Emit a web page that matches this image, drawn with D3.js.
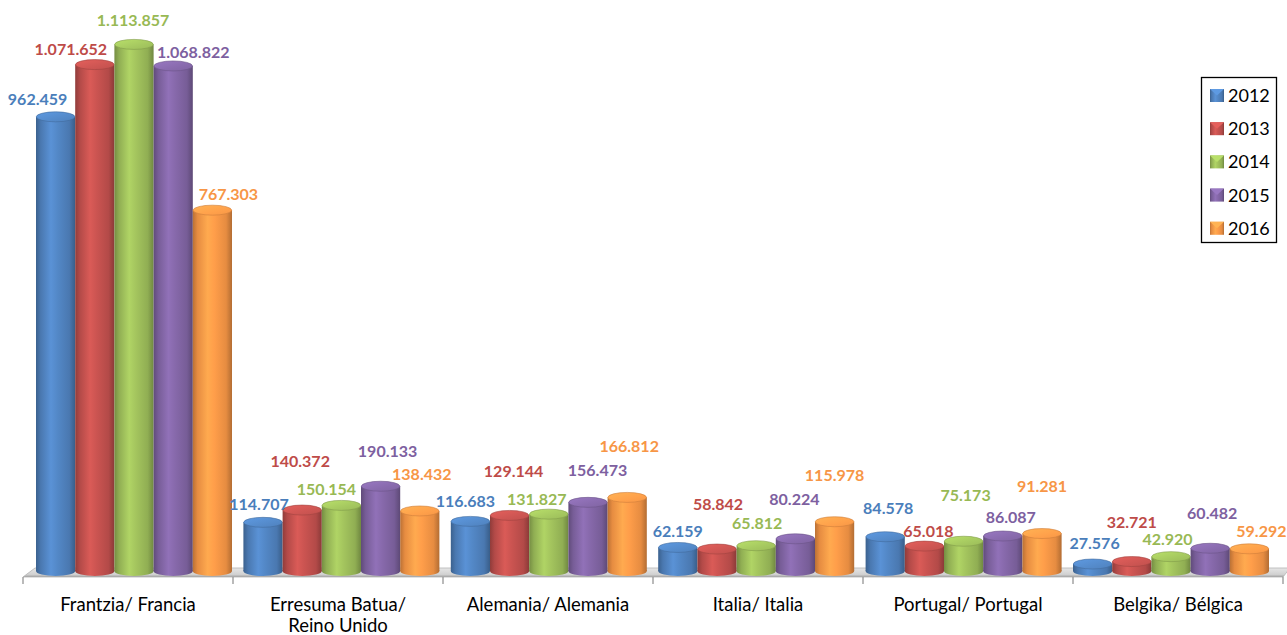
<!DOCTYPE html>
<html>
<head>
<meta charset="utf-8">
<script src="https://cdn.jsdelivr.net/npm/d3@7"></script>
<style>
  body { margin: 0; background: #fff; }
  svg { display: block; }
</style>
</head>
<body>
<div id="my-svg-chart"></div>
<script>
// data
const countries = ["Frantzia/ Francia", "Erresuma Batua/|Reino Unido", "Alemania/ Alemania", "Italia/ Italia", "Portugal/ Portugal", "Belgika/ Bélgica"];
const years = ["2012", "2013", "2014", "2015", "2016"];
const v2012 = [962459, 114707, 116683, 62159, 84578, 27576];
const v2013 = [1071652, 140372, 129144, 58842, 65018, 32721];
const v2014 = [1113857, 150154, 131827, 65812, 75173, 42920];
const v2015 = [1068822, 190133, 156473, 80224, 86087, 60482];
const v2016 = [767303, 138432, 166812, 115978, 91281, 59292];
const series = [v2012, v2013, v2014, v2015, v2016];

// excel pushed the value labels around to avoid overlaps, per year then per country
const labelDx = [
  [-18, -4, -5, 0, 3, 2],
  [-24, -2, 4, 1, 4, 0],
  [-1, -15, -12, 1, 2, -3.5],
  [20, 7, 9.5, -1, 8, 2],
  [16, 2, 2, 0, 0, 12]
];
const labelDy = [
  [-11.5, -12, -14, -10.5, -23, -15],
  [-10, -43, -38, -39, -9, -34],
  [-18, -10, -9, -17, -40, -12],
  [-7.5, -29, -26, -34, -13, -29],
  [-10, -31, -45, -41, -42, -12]
];

const colors = ["#4f81bd", "#c0504d", "#9bbb59", "#8064a2", "#f79646"];
const labelColors = ["#4a7ebb", "#be4b48", "#98b954", "#7d60a0", "#f79646"];

const width = 1287, height = 635;
const yBase = 571, ry = 5;

const fmt = d3.formatLocale({decimal: ",", thousands: ".", grouping: [3], currency: ["", ""]}).format(",d");

const svg = d3.select("#my-svg-chart")
  .append("svg")
  .attr("width", width)
  .attr("height", height);

// scales: back plane for the bars, front edge for ticks and names
const xBack = d3.scaleBand().domain(countries).range([36, 36 + 6 * 207.4]);
const xBar = d3.scaleBand().domain(years).range([0, 196]);
const xFront = d3.scaleBand().domain(countries).range([23, 1283]);
const y = d3.scaleLinear().domain([0, 1200000]).range([577.2, 3.2]);

// gradients for the cylinders
const defs = svg.append("defs");
colors.forEach((c, i) => {
  const base = d3.color(c);
  const g = defs.append("linearGradient")
    .attr("id", "body" + i)
    .attr("x1", 0).attr("x2", 1).attr("y1", 0).attr("y2", 0);
  [[0, base.darker(0.8)], [0.12, base.darker(0.2)], [0.38, base.brighter(0.35)], [0.55, base.brighter(0.15)], [0.85, base.darker(0.2)], [1, base.darker(0.9)]]
    .forEach(s => g.append("stop").attr("offset", s[0]).attr("stop-color", s[1]));

  const t = defs.append("linearGradient")
    .attr("id", "top" + i)
    .attr("x1", 0).attr("x2", 1).attr("y1", 0).attr("y2", 1);
  [[0, base.brighter(0.5)], [0.6, base.brighter(0.2)], [1, base]]
    .forEach(s => t.append("stop").attr("offset", s[0]).attr("stop-color", s[1]));
});

const floorGrad = defs.append("linearGradient")
  .attr("id", "floor").attr("x1", 0).attr("x2", 0).attr("y1", 0).attr("y2", 1);
floorGrad.append("stop").attr("offset", 0).attr("stop-color", "#e6e6e6");
floorGrad.append("stop").attr("offset", 0.75).attr("stop-color", "#d0d0d0");
floorGrad.append("stop").attr("offset", 1).attr("stop-color", "#9a9a9a");

// floor
svg.append("polygon")
  .attr("points", [[35, 568], [1290, 568], [1283, 577], [23, 577]].join(" "))
  .attr("fill", "url(#floor)")
  .attr("stroke", "#b4b4b4")
  .attr("stroke-width", 0.8);

// tick marks on the front edge
svg.append("g")
  .selectAll("line")
  .data(countries.concat(["end"]))
  .join("line")
  .attr("x1", (d, i) => i < countries.length ? xFront(d) : xFront.range()[1])
  .attr("x2", (d, i) => i < countries.length ? xFront(d) : xFront.range()[1])
  .attr("y1", 577)
  .attr("y2", 584)
  .attr("stroke", "#8c8c8c")
  .attr("stroke-width", 1.2);

// bars
const flat = [];
series.forEach((vals, s) => {
  vals.forEach((v, c) => {
    flat.push({s: s, c: c, v: v});
  });
});

const bars = svg.append("g")
  .selectAll("g")
  .data(flat)
  .join("g")
  .attr("transform", d => `translate(${xBack(countries[d.c]) + xBar(years[d.s])},0)`);

const bw = xBar.bandwidth();

bars.append("ellipse")
  .attr("cx", bw / 2)
  .attr("cy", yBase)
  .attr("rx", bw / 2)
  .attr("ry", ry)
  .attr("fill", d => `url(#body${d.s})`);

bars.append("rect")
  .attr("x", 0)
  .attr("y", d => y(d.v))
  .attr("width", bw)
  .attr("height", d => yBase - y(d.v))
  .attr("fill", d => `url(#body${d.s})`);

bars.append("ellipse")
  .attr("cx", bw / 2)
  .attr("cy", d => y(d.v))
  .attr("rx", bw / 2 - 0.3)
  .attr("ry", ry)
  .attr("fill", d => `url(#top${d.s})`)
  .attr("stroke", d => d3.color(colors[d.s]).darker(0.5))
  .attr("stroke-width", 0.6);

// value labels
svg.append("g")
  .selectAll("text")
  .data(flat)
  .join("text")
  .attr("x", d => xBack(countries[d.c]) + xBar(years[d.s]) + bw / 2 + labelDx[d.s][d.c])
  .attr("y", d => y(d.v) + labelDy[d.s][d.c])
  .attr("text-anchor", "middle")
  .attr("font-family", "Lato, 'Open Sans', sans-serif")
  .attr("font-weight", "bold")
  .attr("font-size", 16)
  .attr("fill", d => labelColors[d.s])
  .text(d => fmt(d.v));

// country names
const names = svg.append("g")
  .selectAll("text")
  .data(countries)
  .join("text")
  .attr("x", d => xFront(d) + xFront.bandwidth() / 2)
  .attr("y", 611)
  .attr("text-anchor", "middle")
  .attr("font-family", "Lato, 'Open Sans', sans-serif")
  .attr("font-size", 18.5)
  .attr("fill", "#000");

names.selectAll("tspan")
  .data(d => d.split("|"))
  .join("tspan")
  .attr("x", function () { return this.parentNode.getAttribute("x"); })
  .attr("dy", (d, i) => i === 0 ? 0 : 21)
  .text(d => d);

// legend
const legend = svg.append("g");
legend.append("rect")
  .attr("x", 1201.5)
  .attr("y", 77.5)
  .attr("width", 75)
  .attr("height", 165)
  .attr("fill", "#fff")
  .attr("stroke", "#000")
  .attr("stroke-width", 1.3);

const items = legend.selectAll("g.item")
  .data(years)
  .join("g")
  .attr("class", "item")
  .attr("transform", (d, i) => `translate(1210,${89 + i * 33.2})`);

items.append("rect")
  .attr("width", 14)
  .attr("height", 13)
  .attr("fill", (d, i) => `url(#body${i})`);

items.append("polygon")
  .attr("points", "0,0 14,0 7,6.5")
  .attr("fill", (d, i) => d3.color(colors[i]).brighter(0.5));

items.append("text")
  .attr("x", 18)
  .attr("y", 13)
  .attr("font-family", "Lato, 'Open Sans', sans-serif")
  .attr("font-size", 18)
  .attr("fill", "#000")
  .text(d => d);
</script>
</body>
</html>
